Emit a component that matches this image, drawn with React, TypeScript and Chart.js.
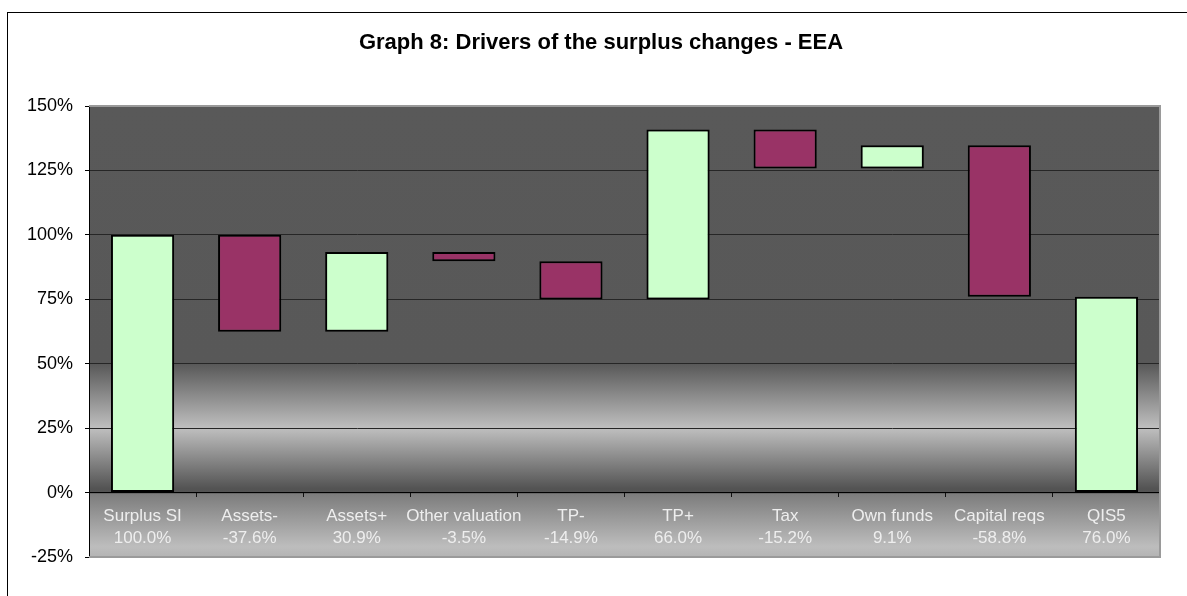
import React, { useEffect, useRef } from 'react';
import { Chart, registerables } from 'chart.js';

Chart.register(...registerables);

const titleText = 'Graph 8: Drivers of the surplus changes - EEA';
const categories = ['Surplus SI', 'Assets-', 'Assets+', 'Other valuation', 'TP-', 'TP+', 'Tax', 'Own funds', 'Capital reqs', 'QIS5'];
const changeLabels = ['100.0%', '-37.6%', '30.9%', '-3.5%', '-14.9%', '66.0%', '-15.2%', '9.1%', '-58.8%', '76.0%'];
const barStart = [0, 100, 62.4, 93.3, 89.8, 74.9, 140.9, 125.7, 134.8, 0];
const barEnd = [100, 62.4, 93.3, 89.8, 74.9, 140.9, 125.7, 134.8, 76.0, 76.0];
const yMin = -25;
const yMax = 150;
const yStep = 25;

const GREEN = '#ccffcc';
const MAROON = '#993366';
const FONT = 'Liberation Sans, Arial, sans-serif';

const backgroundPlugin = {
  id: 'plotBackground',
  beforeDraw(chart: any) {
    const { ctx, chartArea } = chart;
    const { left, top, right, bottom } = chartArea;
    ctx.save();
    // outer frame
    ctx.strokeStyle = '#000';
    ctx.lineWidth = 1;
    ctx.strokeRect(7.5, 12.5, 3000, 3000);
    // plot area gradient
    const y = chart.scales.y;
    const h = bottom - top;
    const f = (v: number) => Math.min(1, Math.max(0, (y.getPixelForValue(v) - top) / h));
    const g = ctx.createLinearGradient(0, top, 0, bottom);
    g.addColorStop(0, '#595959');
    g.addColorStop(f(50), '#585858');
    g.addColorStop(f(25), '#bfbfbf');
    g.addColorStop(f(1.5), '#535353');
    g.addColorStop(f(0), '#545454');
    g.addColorStop(Math.min(1, f(0) + 0.004), '#7d7d7d');
    g.addColorStop(f(-21), '#bdbdbd');
    g.addColorStop(1, '#b3b3b3');
    ctx.fillStyle = g;
    ctx.fillRect(left, top, right - left, bottom - top);
    ctx.restore();
  },
  afterDraw(chart: any) {
    const { ctx, chartArea } = chart;
    const { left, top, right, bottom } = chartArea;
    ctx.save();
    ctx.strokeStyle = '#9a9a9a';
    ctx.lineWidth = 2;
    ctx.beginPath();
    ctx.moveTo(left, top);
    ctx.lineTo(right, top);
    ctx.lineTo(right, bottom);
    ctx.lineTo(left, bottom);
    ctx.stroke();
    ctx.restore();
  },
};

export default function App() {
  const canvasRef = useRef<HTMLCanvasElement | null>(null);

  useEffect(() => {
    const canvas = canvasRef.current;
    if (!canvas) return;
    const ranges = barStart.map((s, i) => [s, barEnd[i]]);
    const colors = barStart.map((s, i) => (i === 0 || i === barStart.length - 1 || barEnd[i] >= s ? GREEN : MAROON));
    const chart = new Chart(canvas, {
      type: 'bar',
      data: {
        labels: categories.map((c, i) => [c, changeLabels[i]]),
        datasets: [
          {
            data: ranges as any,
            backgroundColor: colors,
            borderColor: '#000',
            borderWidth: 2,
            borderSkipped: false,
            barPercentage: 0.59,
            categoryPercentage: 1,
          },
        ],
      },
      options: {
        responsive: false,
        animation: false,
        devicePixelRatio: 1,
        layout: { padding: { left: 15, right: 0, top: 12, bottom: 39 } },
        plugins: {
          legend: { display: false },
          tooltip: { enabled: false },
          title: {
            display: true,
            text: titleText,
            color: '#000',
            font: { family: FONT, size: 22, weight: 'bold' },
            padding: { top: 18, bottom: 49.6 },
          },
        },
        scales: {
          x: {
            type: 'category',
            position: { y: 0 } as any,
            offset: true,
            grid: {
              offset: true,
              drawOnChartArea: false,
              drawTicks: true,
              tickLength: 4,
              color: '#000',
              tickColor: '#111',
            },
            border: { display: true, color: '#000', width: 1 },
            ticks: {
              color: '#eeeeee',
              font: { family: FONT, size: 17, lineHeight: 1.3 },
              padding: 9,
              autoSkip: false,
              maxRotation: 0,
              minRotation: 0,
            },
          },
          y: {
            min: yMin,
            max: yMax,
            afterFit(scale: any) {
              scale.width = 74;
            },
            grid: {
              color: (c: any) =>
                c.tick && (c.tick.value === yMax || c.tick.value === yMin) ? 'rgba(0,0,0,0)' : '#262626',
              tickColor: '#000',
              tickLength: 4,
              lineWidth: 1,
            },
            border: { display: true, color: '#000', width: 1 },
            ticks: {
              stepSize: yStep,
              color: '#000',
              font: { family: FONT, size: 18 },
              padding: 12,
              callback: (v: any) => `${v}%`,
            },
          },
          ySpacer: {
            type: 'linear',
            position: 'right',
            min: yMin,
            max: yMax,
            grid: { display: false, drawTicks: false },
            border: { display: false },
            ticks: { display: false },
            afterFit(scale: any) {
              scale.width = 27;
            },
          },
        },
      },
      plugins: [backgroundPlugin],
    });
    return () => chart.destroy();
  }, []);

  return (
    <div style={{ position: 'absolute', left: 0, top: 0, width: 1187, height: 596, background: '#fff' }}>
      <canvas ref={canvasRef} width={1187} height={596} style={{ display: 'block' }} />
    </div>
  );
}
